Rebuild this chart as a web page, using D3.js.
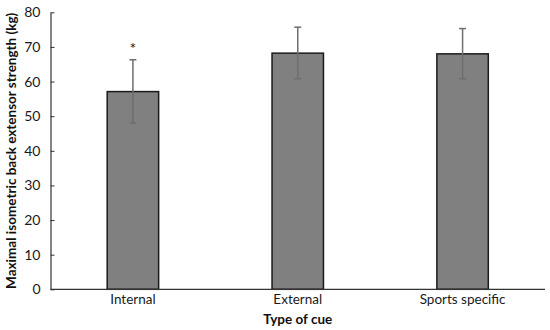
<!DOCTYPE html>
<html><head><meta charset="utf-8">
<script src="https://cdn.jsdelivr.net/npm/d3@7"></script>
<style>body{margin:0;background:#fff}svg{display:block}text{font-family:Lato,"Open Sans",sans-serif}</style>
</head><body><svg id="c" width="550" height="330"></svg>
<script>
const categories = ["Internal", "External", "Sports specific"];
const means = [57.1, 68.2, 68.0];
const upper = [66.3, 75.7, 75.3];
const lower = [48.0, 60.8, 60.8];
const marks = ["*", "", ""];
const yTicks = [0, 10, 20, 30, 40, 50, 60, 70, 80];

const svg = d3.select("#c");
const m = {l: 50.5, r: 545, t: 12.3, b: 289.3};
const x = d3.scaleBand().domain(categories).range([m.l, m.r]).paddingInner(0.688).paddingOuter(0.344);
const y = d3.scaleLinear().domain([0, 80]).range([m.b, m.t]);

// bars
svg.append("g").selectAll("rect").data(categories).join("rect")
  .attr("x", d => x(d)).attr("width", x.bandwidth())
  .attr("y", (d, i) => y(means[i])).attr("height", (d, i) => y(0) - y(means[i]))
  .attr("fill", "#808080").attr("stroke", "#1a1a1a").attr("stroke-width", 1.5);

// error bars
const eb = svg.append("g").attr("stroke", "#6e6e6e").attr("stroke-width", 1.5);
categories.forEach((c, i) => {
  const cx = x(c) + x.bandwidth() / 2;
  eb.append("line").attr("x1", cx).attr("x2", cx).attr("y1", y(upper[i])).attr("y2", y(lower[i]));
  [upper[i], lower[i]].forEach(v => eb.append("line").attr("x1", cx - 3.5).attr("x2", cx + 3.5).attr("y1", y(v)).attr("y2", y(v)));
  if (marks[i]) svg.append("text").attr("x", cx).attr("y", y(upper[i]) - 6).attr("text-anchor", "middle")
    .attr("font-size", 16).attr("fill", "#222").text(marks[i]);
});

// y axis
const ya = svg.append("g").attr("transform", `translate(${m.l},0)`)
  .call(d3.axisLeft(y).tickValues(yTicks).tickSize(-4).tickPadding(10).tickSizeOuter(0));
ya.select(".domain").attr("stroke", "#333").attr("stroke-width", 1.2);
ya.selectAll(".tick line").attr("stroke", "#333");
ya.selectAll("text").attr("font-size", 14).attr("fill", "#1a1a1a").attr("font-family", "Lato,sans-serif");

// x axis
const xa = svg.append("g").attr("transform", `translate(0,${m.b})`)
  .call(d3.axisBottom(x).tickSize(0).tickPadding(5));
xa.select(".domain").attr("stroke", "#333").attr("stroke-width", 1.2).attr("d", `M${m.l},0H${m.r}`);
xa.selectAll("text").attr("font-size", 13.5).attr("fill", "#1a1a1a").attr("font-family", "Lato,sans-serif");

// axis titles
svg.append("text").attr("x", (m.l + m.r) / 2).attr("y", 324).attr("text-anchor", "middle")
  .attr("font-size", 13.5).attr("font-weight", "bold").attr("fill", "#111").text("Type of cue");
svg.append("text").attr("transform", `translate(16,${(m.t + m.b) / 2}) rotate(-90)`).attr("text-anchor", "middle")
  .attr("font-size", 13.5).attr("font-weight", "bold").attr("fill", "#111").text("Maximal isometric back extensor strength  (kg)");
</script></body></html>
